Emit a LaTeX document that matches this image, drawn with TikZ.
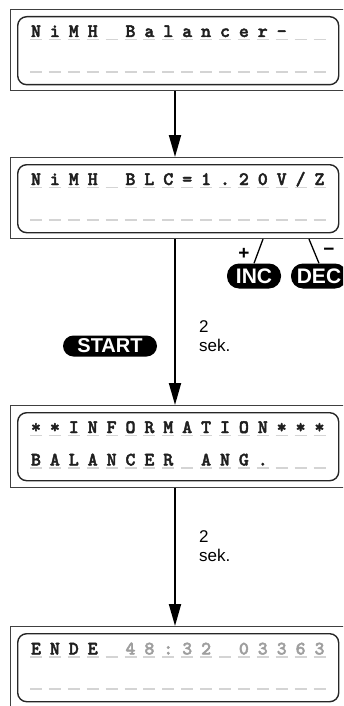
\documentclass[tikz,border=0pt]{standalone}
\usepackage{fontspec}
\setsansfont{Liberation Sans}
\newfontfamily\lcdfont{lmmonolt10-bold.otf}[FakeBold=2.2]
\usetikzlibrary{arrows.meta}
\newcommand\dashrow[2]{\foreach \k in {0,...,15} {\draw[cell] (30+18.9*\k,#2) -- ++(12,0);}}
\newcommand\lcdrow[4]{\foreach \k/\ch in {#4} {\node[#3] (#1\k) at (36+18.9*\k,#2-2.5) {\ch};}}
\begin{document}
\begin{tikzpicture}[x=1pt,y=-1pt,
  outerbox/.style={draw=black!75,line width=1.1pt,minimum width=350pt,minimum height=#1,anchor=north west,inner sep=0},
  lcdbox/.style={draw=black!85,line width=1.4pt,rounded corners=9pt,minimum width=321pt,minimum height=68pt,anchor=north west,inner sep=0},
  cell/.style={draw=black!17,line width=1.3pt},
  lcd/.style={font=\lcdfont\fontsize{19}{19}\selectfont,text=black!88,inner sep=0,anchor=base},
  lcdgray/.style={lcd,text=black!38},
  pill/.style={fill=black,text=white,rounded corners=#1,inner sep=0},
  arr/.style={line width=1.8pt,-{Triangle[length=22pt,width=12pt]}},
  lbl/.style={font=\sffamily\fontsize{17}{19}\selectfont,align=left,anchor=north west,inner sep=0},
  ctl/.style={line width=1.3pt}]
\useasboundingbox (0,0) rectangle (343,706);
\clip (0,0) rectangle (343,706);
\coordinate (ax) at (175,0);
\coordinate (incx) at (263,0);
\coordinate (decx) at (309,0);
% boxes
\node[outerbox=81pt] (box1) at (10,9) {};
\node[lcdbox] (lcd1) at (17,16) {};
\node[outerbox=81pt] (box2) at (10,157) {};
\node[lcdbox] (lcd2) at (17,164) {};
\node[outerbox=82pt] (box3) at (10,405) {};
\node[lcdbox] (lcd3) at (17,412) {};
\node[outerbox=100pt] (box4) at (10,626) {};
\node[lcdbox] (lcd4) at (17,633) {};
% rows
\dashrow{1}{39.5}\dashrow{1}{72}
\lcdrow{a}{39.5}{lcd}{0/N,1/i,2/M,3/H,5/B,6/a,7/l,8/a,9/n,10/c,11/e,12/r,13/-}
\dashrow{2}{187.5}\dashrow{2}{220}
\lcdrow{b}{187.5}{lcd}{0/N,1/i,2/M,3/H,5/B,6/L,7/C,8/=,9/1,10/.,11/2,12/0,13/V,14/{/},15/Z}
\dashrow{3}{435.5}\dashrow{3}{468}
\lcdrow{c}{435.5}{lcd}{0/*,1/*,2/I,3/N,4/F,5/O,6/R,7/M,8/A,9/T,10/I,11/O,12/N,13/*,14/*,15/*}
\lcdrow{d}{468}{lcd}{0/B,1/A,2/L,3/A,4/N,5/C,6/E,7/R,9/A,10/N,11/G,12/.}
\dashrow{4}{657}\dashrow{4}{689}
\lcdrow{e}{657}{lcd}{0/E,1/N,2/D,3/E}
\lcdrow{f}{657}{lcdgray}{5/4,6/8,7/:,8/3,9/2,11/0,12/3,13/3,14/6,15/3}
% buttons
\node[pill=12pt,minimum width=54pt,minimum height=25pt,font=\sffamily\bfseries\fontsize{21}{21}\selectfont] (inc) at (254,276) {INC};
\node[pill=12pt,minimum width=56pt,minimum height=25pt,font=\sffamily\bfseries\fontsize{21}{21}\selectfont] (dec) at (319,276) {DEC};
\node[pill=10.5pt,minimum width=94pt,minimum height=21pt,font=\sffamily\bfseries\fontsize{20}{20}\selectfont] (start) at (110,346) {START};
\draw[ctl] (box2.south -| incx) -- (inc.north);
\draw[ctl] (box2.south -| decx) -- (dec.north);
\node[font=\sffamily\bfseries\fontsize{19}{19}\selectfont,inner sep=0] (plus) at (244,254) {+};
\node[font=\sffamily\bfseries\fontsize{19}{19}\selectfont,inner sep=0] (minus) at (329,252) {\char"2212};
% labels
\node[lbl] (t1) at (199,320) {2\\sek.};
\node[lbl] (t2) at (199,530) {2\\sek.};
% arrows
\draw[arr] (box1.south -| ax) -- (box2.north -| ax);
\draw[arr] (box2.south -| ax) -- (box3.north -| ax);
\draw[arr] (box3.south -| ax) -- (box4.north -| ax);
\end{tikzpicture}
\end{document}
